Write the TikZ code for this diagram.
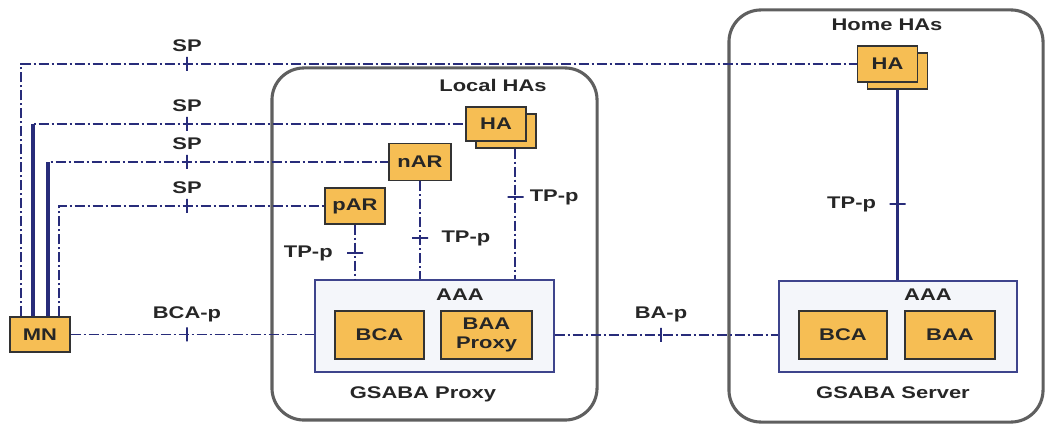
\documentclass[tikz,border=0pt]{standalone}
\usepackage{fontspec}
\setmainfont{Liberation Sans}[FakeStretch=1.3]
\usetikzlibrary{positioning}
\definecolor{unitorange}{RGB}{246,190,84}
\definecolor{linknavy}{RGB}{40,44,122}
\definecolor{aaaframe}{RGB}{62,68,140}
\definecolor{aaafill}{RGB}{244,246,250}
\definecolor{zonegray}{RGB}{95,95,95}

\begin{document}
\begin{tikzpicture}[
    x=0.025cm, y=-0.025cm,
    every node/.style={font=\fontsize{12}{14}\selectfont\bfseries, text=black!85},
    unit/.style={draw=black!80, line width=1pt, fill=unitorange, inner sep=1pt},
    aaa/.style={draw=aaaframe, line width=1pt, fill=aaafill},
    zone/.style={draw=zonegray, line width=2.2pt, rounded corners=0.8cm},
    dlink/.style={draw=linknavy, line width=0.8pt, dash pattern=on 7pt off 2.2pt on 1.4pt off 2.2pt},
    slink/.style={draw=linknavy, line width=2.2pt},
    vtick/.style={draw=linknavy, line width=0.8pt, inner sep=0, minimum width=0, minimum height=0.35cm, label distance=0.04cm},
    htick/.style={draw=linknavy, line width=0.8pt, inner sep=0, minimum height=0, minimum width=0.4cm}
]
\useasboundingbox (0,0) rectangle (1047,425);

\node[zone, minimum width=8.125cm, minimum height=8.8cm] (locZone) at (434.5,244) {};
\node[zone, minimum width=7.85cm, minimum height=10.3cm] (homeZone) at (886,216) {};
\node at (493,85) {Local HAs};
\node at (887,25) {Home HAs};

\node[aaa, minimum width=5.975cm, minimum height=2.3cm] (locAAA) at (434.5,326) {};
\node at (460,295) {AAA};
\node[unit, minimum width=2.225cm, minimum height=1.2cm] (locBCA) at (379.5,335) {BCA};
\node[unit, minimum width=2.275cm, minimum height=1.2cm, align=center] (locBAA) at (486.5,335) {BAA\\Proxy};
\node at (423,394) {GSABA Proxy};

\node[aaa, minimum width=5.95cm, minimum height=2.275cm] (srvAAA) at (898,326.5) {};
\node at (928,295) {AAA};
\node[unit, minimum width=2.2cm, minimum height=1.2cm] (srvBCA) at (843,335) {BCA};
\node[unit, minimum width=2.25cm, minimum height=1.2cm] (srvBAA) at (950,335) {BAA};
\node at (893,393) {GSABA Server};

\node[unit, minimum width=1.5cm, minimum height=0.9cm] (homeHAb) at (897.5,71) {};
\node[unit, minimum width=1.5cm, minimum height=0.9cm] (homeHA) at (887.5,64) {HA};
\node[unit, minimum width=1.5cm, minimum height=0.85cm] (locHAb) at (506,131) {};
\node[unit, minimum width=1.5cm, minimum height=0.85cm] (locHA) at (496,124) {HA};
\node[unit, minimum width=1.55cm, minimum height=0.925cm] (nAR) at (420,162) {nAR};
\node[unit, minimum width=1.5cm, minimum height=0.9cm] (pAR) at (355,206) {pAR};
\node[unit, minimum width=1.5cm, minimum height=0.875cm] (MN) at (40,334.5) {MN};

\coordinate (mn1) at ([xshift=-0.475cm]MN.north);
\coordinate (mn2) at ([xshift=-0.175cm]MN.north);
\coordinate (mn3) at ([xshift=0.2cm]MN.north);
\coordinate (mn4) at ([xshift=0.475cm]MN.north);
\coordinate (haFoot) at ([xshift=0.225cm]locHAb.south);

\draw[dlink] (mn1) |- (homeHA.west);
\draw[dlink] (mn2) |- (locHA.west);
\draw[slink] (mn2) -- (mn2 |- locHA.west);
\draw[dlink] (mn3) |- (nAR.west);
\draw[slink] (mn3) -- (mn3 |- nAR.west);
\draw[dlink] (mn4) |- (pAR.west);

\draw[dlink] (pAR.south) -- (pAR.south |- locAAA.north);
\draw[dlink] (nAR.south) -- (nAR.south |- locAAA.north);
\draw[dlink] (haFoot) -- (haFoot |- locAAA.north);
\draw[slink] (homeHAb.south) -- (homeHAb.south |- srvAAA.north);

\draw[dlink] (MN.east) -- (MN.east -| locAAA.west);
\draw[dlink] (locBAA.east -| locAAA.east) -- (srvBCA.west -| srvAAA.west);

\node[vtick, label=above:SP] (spTick1) at (187,64) {};
\node[vtick, label=above:SP] (spTick2) at (187,124) {};
\node[vtick, label=above:SP] (spTick3) at (187,162) {};
\node[vtick, label=above:SP] (spTick4) at (187,206) {};
\node[vtick, label=above:BCA-p] (bcaTick) at (187,334.5) {};
\node[vtick, label=above:BA-p] (baTick) at (661,335) {};

\node[htick, label={[label distance=0.22cm]left:TP-p}] (tpTick1) at (355,253) {};
\node[htick, label={[label distance=0.2cm]right:TP-p}] (tpTick2) at (420,238) {};
\node[htick, label={[label distance=0.02cm]right:TP-p}] (tpTick3) at (515.5,197) {};
\node[htick, label={[label distance=0.2cm]left:TP-p}] (tpTick4) at (897.5,204) {};
\end{tikzpicture}
\end{document}
